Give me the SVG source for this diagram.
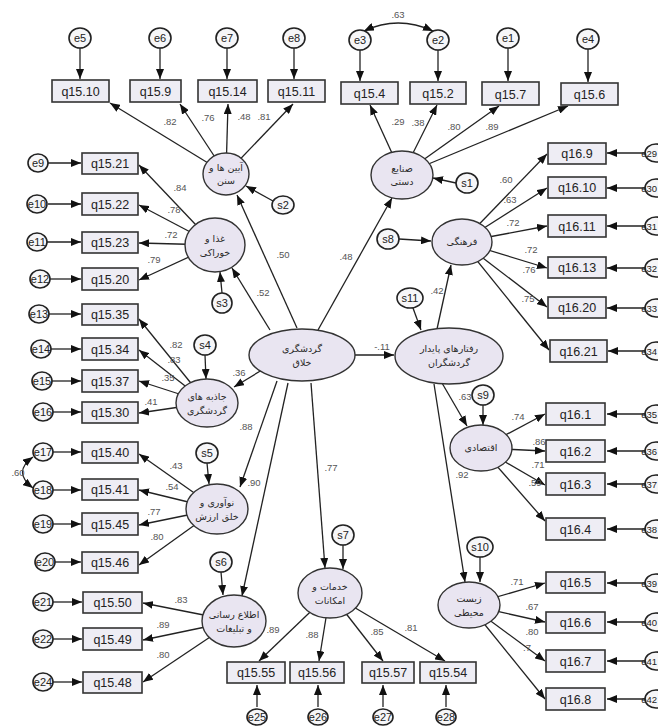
<svg xmlns="http://www.w3.org/2000/svg" width="658" height="726" viewBox="0 0 658 726">
<defs>
<marker id="ah" markerWidth="10" markerHeight="8" refX="10" refY="4" orient="auto" markerUnits="userSpaceOnUse"><path d="M0,0 L10,4 L0,8 z" fill="#111"/></marker>
<marker id="as" markerWidth="10" markerHeight="8" refX="0" refY="4" orient="auto" markerUnits="userSpaceOnUse"><path d="M10,0 L0,4 L10,8 z" fill="#111"/></marker>
</defs>
<style>
.c line,.c path{stroke:#222;stroke-width:1.3;fill:none;marker-end:url(#ah)}
.c path.cov{marker-start:url(#as)}
.box rect{fill:#eeedf4;stroke:#333;stroke-width:1.6}
.box text{font-family:"Liberation Sans",Arial,sans-serif;font-size:12.5px;fill:#222;text-anchor:middle}
.lat ellipse{fill:#e9e5f1;stroke:#333;stroke-width:1.4}
.lat text{font-family:"DejaVu Sans","Noto Sans",sans-serif;font-size:9.5px;fill:#2a2a2a;text-anchor:middle}
.err ellipse{fill:#f6f6f8;stroke:#222;stroke-width:1.6}
.err text{font-family:"Liberation Sans",Arial,sans-serif;font-size:11px;fill:#222;text-anchor:middle}
.err text.r{font-size:9.5px;text-anchor:end}
.lb text{font-family:"Liberation Sans",Arial,sans-serif;font-size:9.5px;fill:#555;text-anchor:middle}
</style>
<rect width="658" height="726" fill="#fff"/>
<g id="connectors" class="c">
<line x1="80" y1="48" x2="80" y2="79"/><line x1="160" y1="48" x2="160" y2="79"/><line x1="227" y1="48" x2="227" y2="79"/><line x1="294" y1="48" x2="294" y2="79"/>
<line x1="360" y1="50" x2="360" y2="81"/><line x1="438" y1="50" x2="438" y2="81"/><line x1="508" y1="48" x2="508" y2="81"/><line x1="588" y1="49" x2="588" y2="82"/>
<path class="cov" d="M364,31 Q398,15 433,31"/>
<line x1="48" y1="163" x2="81" y2="163"/><line x1="48" y1="204" x2="81" y2="204"/><line x1="47" y1="242" x2="81" y2="242"/><line x1="50" y1="279" x2="81" y2="279"/>
<line x1="49" y1="314" x2="81" y2="314"/><line x1="51" y1="349" x2="81" y2="349"/><line x1="52" y1="381" x2="81" y2="381"/><line x1="53" y1="412" x2="81" y2="412"/>
<line x1="53" y1="452" x2="81" y2="452"/><line x1="53" y1="490" x2="81" y2="490"/><line x1="53" y1="524" x2="81" y2="524"/><line x1="55" y1="562" x2="81" y2="562"/>
<line x1="53" y1="602" x2="82" y2="602"/><line x1="53" y1="639" x2="82" y2="639"/><line x1="53" y1="682" x2="82" y2="682"/>
<path class="cov" d="M33,457 Q12,472 33,488"/>
<line x1="645" y1="153" x2="607" y2="153"/><line x1="645" y1="188" x2="607" y2="188"/><line x1="645" y1="226" x2="607" y2="226"/><line x1="645" y1="268" x2="607" y2="268"/><line x1="645" y1="308" x2="607" y2="308"/><line x1="645" y1="351" x2="608" y2="351"/>
<line x1="645" y1="414" x2="607" y2="414"/><line x1="645" y1="451" x2="607" y2="451"/><line x1="645" y1="484" x2="607" y2="484"/><line x1="645" y1="529" x2="607" y2="529"/>
<line x1="645" y1="583" x2="607" y2="583"/><line x1="645" y1="622" x2="607" y2="622"/><line x1="645" y1="661" x2="607" y2="661"/><line x1="645" y1="699" x2="607" y2="699"/>
<line x1="257" y1="707" x2="257" y2="685"/><line x1="318" y1="707" x2="318" y2="685"/><line x1="383" y1="707" x2="383" y2="685"/><line x1="446" y1="707" x2="446" y2="685"/>
<line x1="226" y1="174" x2="110" y2="103"/><line x1="226" y1="174" x2="180" y2="104"/><line x1="226" y1="174" x2="228" y2="104"/><line x1="226" y1="174" x2="293" y2="104"/>
<line x1="402" y1="175" x2="370" y2="105"/><line x1="402" y1="175" x2="437" y2="105"/><line x1="402" y1="175" x2="499" y2="106"/><line x1="402" y1="175" x2="568" y2="106"/>
<line x1="215" y1="245" x2="139" y2="165"/><line x1="215" y1="245" x2="139" y2="205"/><line x1="215" y1="245" x2="139" y2="243"/><line x1="215" y1="245" x2="139" y2="280"/>
<line x1="207" y1="403" x2="139" y2="319"/><line x1="207" y1="403" x2="139" y2="350"/><line x1="207" y1="403" x2="139" y2="381"/><line x1="207" y1="403" x2="139" y2="413"/>
<line x1="217" y1="509" x2="139" y2="454"/><line x1="217" y1="509" x2="139" y2="490"/><line x1="217" y1="509" x2="139" y2="525"/><line x1="217" y1="509" x2="139" y2="565"/>
<line x1="234" y1="621" x2="143" y2="603"/><line x1="234" y1="621" x2="143" y2="640"/><line x1="234" y1="621" x2="143" y2="682"/>
<line x1="330" y1="593" x2="259" y2="661"/><line x1="330" y1="593" x2="319" y2="661"/><line x1="330" y1="593" x2="383" y2="661"/><line x1="330" y1="593" x2="445" y2="661"/>
<line x1="462" y1="242" x2="547" y2="154"/><line x1="462" y1="242" x2="547" y2="188"/><line x1="462" y1="242" x2="547" y2="226"/><line x1="462" y1="242" x2="547" y2="268"/><line x1="462" y1="242" x2="547" y2="307"/><line x1="462" y1="242" x2="549" y2="350"/>
<line x1="481" y1="448" x2="545" y2="414"/><line x1="481" y1="448" x2="545" y2="451"/><line x1="481" y1="448" x2="545" y2="485"/><line x1="481" y1="448" x2="545" y2="521"/>
<line x1="469" y1="605" x2="545" y2="583"/><line x1="469" y1="605" x2="545" y2="622"/><line x1="469" y1="605" x2="545" y2="661"/><line x1="469" y1="605" x2="545" y2="699"/>
<line x1="273" y1="201" x2="246" y2="186"/><line x1="222" y1="293" x2="220" y2="272"/><line x1="456" y1="183" x2="433" y2="178"/><line x1="399" y1="239" x2="431" y2="241"/>
<line x1="205" y1="355" x2="206" y2="379"/><line x1="207" y1="463" x2="209" y2="484"/><line x1="221" y1="572" x2="223" y2="595"/><line x1="343" y1="545" x2="343" y2="569"/>
<line x1="483" y1="405" x2="483" y2="425"/><line x1="480" y1="557" x2="480" y2="582"/><line x1="413" y1="308" x2="421" y2="330"/>
<line x1="297" y1="328" x2="237" y2="195"/><line x1="270" y1="330" x2="232" y2="268"/><line x1="318" y1="330" x2="392" y2="198"/><line x1="262" y1="370" x2="234" y2="387"/>
<line x1="277" y1="381" x2="240" y2="487"/><line x1="288" y1="383" x2="242" y2="596"/><line x1="311" y1="383" x2="325" y2="568"/><line x1="355" y1="355" x2="394" y2="355"/>
<line x1="437" y1="329" x2="451" y2="265"/><line x1="442" y1="383" x2="467" y2="426"/><line x1="434" y1="384" x2="465" y2="582"/>
</g>
<g id="labels" class="lb">
<text x="170" y="125">.82</text><text x="208" y="121">.76</text><text x="244" y="120">.48</text><text x="264" y="120">.81</text>
<text x="398" y="18">.63</text>
<text x="398" y="125">.29</text><text x="418" y="126">.38</text><text x="454" y="130">.80</text><text x="492" y="130">.89</text>
<text x="180" y="191">.84</text><text x="174" y="213">.78</text><text x="171" y="238">.72</text><text x="154" y="263">.79</text>
<text x="283" y="258">.50</text><text x="263" y="296">.52</text><text x="346" y="260">.48</text>
<text x="176" y="348">.82</text><text x="174" y="363">.83</text><text x="168" y="381">.35</text><text x="151" y="405">.41</text>
<text x="239" y="376">.36</text><text x="246" y="430">.88</text>
<text x="176" y="469">.43</text><text x="172" y="490">.54</text><text x="154" y="515">.77</text><text x="157" y="540">.80</text><text x="254" y="486">.90</text>
<text x="18" y="476">.60</text>
<text x="181" y="603">.83</text><text x="163" y="628">.89</text><text x="163" y="658">.80</text><text x="273" y="633">.89</text>
<text x="331" y="471">.77</text>
<text x="312" y="638">.88</text><text x="377" y="635">.85</text><text x="411" y="631">.81</text>
<text x="382" y="350">-.11</text><text x="437" y="294">.42</text>
<text x="506" y="183">.60</text><text x="510" y="203">.63</text><text x="513" y="226">.72</text><text x="531" y="253">.72</text><text x="529" y="273">.76</text><text x="528" y="302">.75</text>
<text x="465" y="400">.63</text><text x="462" y="478">.92</text>
<text x="518" y="420">.74</text><text x="539" y="445">.86</text><text x="538" y="468">.71</text><text x="535" y="486">.59</text>
<text x="517" y="585">.71</text><text x="532" y="610">.67</text><text x="532" y="635">.80</text><text x="527" y="651">.7</text>
</g>
<g id="n_q15_10" class="box"><rect x="52" y="80" width="57" height="22"/><text x="80.5" y="96">q15.10</text></g>
<g id="n_q15_9" class="box"><rect x="130" y="80" width="51" height="22"/><text x="155.5" y="96">q15.9</text></g>
<g id="n_q15_14" class="box"><rect x="198" y="80" width="59" height="22"/><text x="227.5" y="96">q15.14</text></g>
<g id="n_q15_11" class="box"><rect x="268" y="80" width="57" height="22"/><text x="296.5" y="96">q15.11</text></g>
<g id="n_q15_4" class="box"><rect x="341" y="82" width="57" height="22"/><text x="369.5" y="98">q15.4</text></g>
<g id="n_q15_2" class="box"><rect x="410" y="82" width="56" height="22"/><text x="438" y="98">q15.2</text></g>
<g id="n_q15_7" class="box"><rect x="482" y="82" width="57" height="23"/><text x="510.5" y="98.5">q15.7</text></g>
<g id="n_q15_6" class="box"><rect x="561" y="83" width="57" height="22"/><text x="589.5" y="99">q15.6</text></g>
<g id="n_q15_21" class="box"><rect x="82" y="153" width="56" height="21"/><text x="110" y="168">q15.21</text></g>
<g id="n_q15_22" class="box"><rect x="82" y="193" width="56" height="22"/><text x="110" y="208.5">q15.22</text></g>
<g id="n_q15_23" class="box"><rect x="82" y="232" width="56" height="21"/><text x="110" y="247">q15.23</text></g>
<g id="n_q15_20" class="box"><rect x="82" y="268" width="56" height="22"/><text x="110" y="283.5">q15.20</text></g>
<g id="n_q15_35" class="box"><rect x="82" y="304" width="56" height="21"/><text x="110" y="319">q15.35</text></g>
<g id="n_q15_34" class="box"><rect x="82" y="338" width="56" height="22"/><text x="110" y="353.5">q15.34</text></g>
<g id="n_q15_37" class="box"><rect x="82" y="370" width="56" height="22"/><text x="110" y="385.5">q15.37</text></g>
<g id="n_q15_30" class="box"><rect x="82" y="402" width="56" height="21"/><text x="110" y="417">q15.30</text></g>
<g id="n_q15_40" class="box"><rect x="82" y="442" width="56" height="21"/><text x="110" y="457">q15.40</text></g>
<g id="n_q15_41" class="box"><rect x="82" y="479" width="56" height="21"/><text x="110" y="494">q15.41</text></g>
<g id="n_q15_45" class="box"><rect x="82" y="513" width="56" height="22"/><text x="110" y="528.5">q15.45</text></g>
<g id="n_q15_46" class="box"><rect x="82" y="552" width="56" height="21"/><text x="110" y="567">q15.46</text></g>
<g id="n_q15_50" class="box"><rect x="83" y="592" width="59" height="21"/><text x="112.5" y="607">q15.50</text></g>
<g id="n_q15_49" class="box"><rect x="83" y="628" width="59" height="22"/><text x="112.5" y="643.5">q15.49</text></g>
<g id="n_q15_48" class="box"><rect x="83" y="672" width="59" height="21"/><text x="112.5" y="687">q15.48</text></g>
<g id="n_q15_55" class="box"><rect x="227" y="662" width="58" height="21"/><text x="256" y="677">q15.55</text></g>
<g id="n_q15_56" class="box"><rect x="290" y="662" width="54" height="21"/><text x="317" y="677">q15.56</text></g>
<g id="n_q15_57" class="box"><rect x="362" y="662" width="52" height="21"/><text x="388" y="677">q15.57</text></g>
<g id="n_q15_54" class="box"><rect x="420" y="662" width="56" height="21"/><text x="448" y="677">q15.54</text></g>
<g id="n_q16_9" class="box"><rect x="548" y="143" width="58" height="21"/><text x="577" y="158">q16.9</text></g>
<g id="n_q16_10" class="box"><rect x="548" y="177" width="58" height="21"/><text x="577" y="192">q16.10</text></g>
<g id="n_q16_11" class="box"><rect x="548" y="215" width="58" height="22"/><text x="577" y="230.5">q16.11</text></g>
<g id="n_q16_13" class="box"><rect x="548" y="257" width="58" height="21"/><text x="577" y="272">q16.13</text></g>
<g id="n_q16_20" class="box"><rect x="548" y="297" width="58" height="21"/><text x="577" y="312">q16.20</text></g>
<g id="n_q16_21" class="box"><rect x="550" y="340" width="57" height="22"/><text x="578.5" y="355.5">q16.21</text></g>
<g id="n_q16_1" class="box"><rect x="546" y="403" width="59" height="22"/><text x="575.5" y="418.5">q16.1</text></g>
<g id="n_q16_2" class="box"><rect x="546" y="440" width="59" height="22"/><text x="575.5" y="455.5">q16.2</text></g>
<g id="n_q16_3" class="box"><rect x="546" y="473" width="59" height="22"/><text x="575.5" y="488.5">q16.3</text></g>
<g id="n_q16_4" class="box"><rect x="546" y="518" width="59" height="22"/><text x="575.5" y="533.5">q16.4</text></g>
<g id="n_q16_5" class="box"><rect x="546" y="572" width="59" height="21"/><text x="575.5" y="587">q16.5</text></g>
<g id="n_q16_6" class="box"><rect x="546" y="612" width="59" height="21"/><text x="575.5" y="627">q16.6</text></g>
<g id="n_q16_7" class="box"><rect x="546" y="650" width="59" height="22"/><text x="575.5" y="665.5">q16.7</text></g>
<g id="n_q16_8" class="box"><rect x="546" y="688" width="59" height="22"/><text x="575.5" y="703.5">q16.8</text></g>
<g id="n_rituals" class="lat"><ellipse cx="226" cy="174" rx="23" ry="21"/><text x="226" y="171">آیین ها و</text><text x="226" y="184">سنن</text></g>
<g id="n_crafts" class="lat"><ellipse cx="402" cy="175" rx="31" ry="24"/><text x="402" y="172">صنایع</text><text x="402" y="185">دستی</text></g>
<g id="n_food" class="lat"><ellipse cx="215" cy="245" rx="30" ry="27"/><text x="215" y="242">غذا و</text><text x="215" y="256">خوراکی</text></g>
<g id="n_culture" class="lat"><ellipse cx="462" cy="242" rx="30" ry="23"/><text x="462" y="245">فرهنگی</text></g>
<g id="n_creative" class="lat"><ellipse cx="302" cy="355" rx="53" ry="26"/><text x="302" y="352">گردشگری</text><text x="302" y="366">خلاق</text></g>
<g id="n_behavior" class="lat"><ellipse cx="449" cy="356" rx="54" ry="28"/><text x="449" y="352">رفتارهای پایدار</text><text x="449" y="366">گردشگران</text></g>
<g id="n_attractions" class="lat"><ellipse cx="207" cy="403" rx="31" ry="24"/><text x="207" y="400">جاذبه های</text><text x="207" y="414">گردشگری</text></g>
<g id="n_economic" class="lat"><ellipse cx="481" cy="448" rx="31" ry="23"/><text x="481" y="451">اقتصادی</text></g>
<g id="n_innovation" class="lat"><ellipse cx="217" cy="509" rx="31" ry="25"/><text x="217" y="506">نوآوری و</text><text x="217" y="520">خلق ارزش</text></g>
<g id="n_services" class="lat"><ellipse cx="330" cy="593" rx="32" ry="25"/><text x="330" y="590">خدمات و</text><text x="330" y="604">امکانات</text></g>
<g id="n_environment" class="lat"><ellipse cx="469" cy="605" rx="31" ry="23"/><text x="469" y="602">زیست</text><text x="469" y="616">محیطی</text></g>
<g id="n_media" class="lat"><ellipse cx="234" cy="621" rx="32" ry="26"/><text x="234" y="618">اطلاع رسانی</text><text x="234" y="632">و تبلیغات</text></g>
<g id="errors" class="err">
<g id="n_e5"><ellipse cx="80" cy="38" rx="11" ry="10"/><text x="80" y="42">e5</text></g>
<g id="n_e6"><ellipse cx="160" cy="38" rx="11" ry="10"/><text x="160" y="42">e6</text></g>
<g id="n_e7"><ellipse cx="227" cy="38" rx="11" ry="10"/><text x="227" y="42">e7</text></g>
<g id="n_e8"><ellipse cx="294" cy="38" rx="11" ry="10"/><text x="294" y="42">e8</text></g>
<g id="n_e3"><ellipse cx="360" cy="40" rx="11" ry="10"/><text x="360" y="44">e3</text></g>
<g id="n_e2"><ellipse cx="438" cy="40" rx="11" ry="10"/><text x="438" y="44">e2</text></g>
<g id="n_e1"><ellipse cx="508" cy="38" rx="11" ry="10"/><text x="508" y="42">e1</text></g>
<g id="n_e4"><ellipse cx="588" cy="39" rx="11" ry="10"/><text x="588" y="43">e4</text></g>
<g id="n_e9"><ellipse cx="38" cy="163" rx="10" ry="9"/><text x="38" y="167">e9</text></g>
<g id="n_e10"><ellipse cx="37" cy="204" rx="10" ry="9"/><text x="37" y="208">e10</text></g>
<g id="n_e11"><ellipse cx="37" cy="242" rx="10" ry="9"/><text x="37" y="246">e11</text></g>
<g id="n_e12"><ellipse cx="40" cy="279" rx="10" ry="9"/><text x="40" y="283">e12</text></g>
<g id="n_e13"><ellipse cx="39" cy="314" rx="10" ry="9"/><text x="39" y="318">e13</text></g>
<g id="n_e14"><ellipse cx="41" cy="349" rx="10" ry="9"/><text x="41" y="353">e14</text></g>
<g id="n_e15"><ellipse cx="42" cy="381" rx="10" ry="9"/><text x="42" y="385">e15</text></g>
<g id="n_e16"><ellipse cx="43" cy="412" rx="10" ry="9"/><text x="43" y="416">e16</text></g>
<g id="n_e17"><ellipse cx="43" cy="452" rx="10" ry="9"/><text x="43" y="456">e17</text></g>
<g id="n_e18"><ellipse cx="43" cy="490" rx="10" ry="9"/><text x="43" y="494">e18</text></g>
<g id="n_e19"><ellipse cx="43" cy="524" rx="10" ry="9"/><text x="43" y="528">e19</text></g>
<g id="n_e20"><ellipse cx="45" cy="562" rx="10" ry="9"/><text x="45" y="566">e20</text></g>
<g id="n_e21"><ellipse cx="43" cy="602" rx="10" ry="9"/><text x="43" y="606">e21</text></g>
<g id="n_e22"><ellipse cx="43" cy="639" rx="10" ry="9"/><text x="43" y="643">e22</text></g>
<g id="n_e24"><ellipse cx="43" cy="682" rx="10" ry="9"/><text x="43" y="686">e24</text></g>
<g id="n_e25"><ellipse cx="257" cy="717" rx="10" ry="8"/><text x="257" y="721">e25</text></g>
<g id="n_e26"><ellipse cx="318" cy="717" rx="10" ry="8"/><text x="318" y="721">e26</text></g>
<g id="n_e27"><ellipse cx="383" cy="717" rx="10" ry="8"/><text x="383" y="721">e27</text></g>
<g id="n_e28"><ellipse cx="446" cy="717" rx="10" ry="8"/><text x="446" y="721">e28</text></g>
<g id="n_e29"><ellipse cx="656" cy="153" rx="11" ry="9"/><text class="r" x="657" y="156.5">e29</text></g>
<g id="n_e30"><ellipse cx="656" cy="188" rx="11" ry="9"/><text class="r" x="657" y="191.5">e30</text></g>
<g id="n_e31"><ellipse cx="656" cy="226" rx="11" ry="9"/><text class="r" x="657" y="229.5">e31</text></g>
<g id="n_e32"><ellipse cx="656" cy="268" rx="11" ry="9"/><text class="r" x="657" y="271.5">e32</text></g>
<g id="n_e33"><ellipse cx="656" cy="308" rx="11" ry="9"/><text class="r" x="657" y="311.5">e33</text></g>
<g id="n_e34"><ellipse cx="656" cy="351" rx="11" ry="9"/><text class="r" x="657" y="354.5">e34</text></g>
<g id="n_e35"><ellipse cx="656" cy="414" rx="11" ry="9"/><text class="r" x="657" y="417.5">e35</text></g>
<g id="n_e36"><ellipse cx="656" cy="451" rx="11" ry="9"/><text class="r" x="657" y="454.5">e36</text></g>
<g id="n_e37"><ellipse cx="656" cy="484" rx="11" ry="9"/><text class="r" x="657" y="487.5">e37</text></g>
<g id="n_e38"><ellipse cx="656" cy="529" rx="11" ry="9"/><text class="r" x="657" y="532.5">e38</text></g>
<g id="n_e39"><ellipse cx="656" cy="583" rx="11" ry="9"/><text class="r" x="657" y="586.5">e39</text></g>
<g id="n_e40"><ellipse cx="656" cy="622" rx="11" ry="9"/><text class="r" x="657" y="625.5">e40</text></g>
<g id="n_e41"><ellipse cx="656" cy="661" rx="11" ry="9"/><text class="r" x="657" y="664.5">e41</text></g>
<g id="n_e42"><ellipse cx="656" cy="699" rx="11" ry="9"/><text class="r" x="657" y="702.5">e42</text></g>
</g>
<g id="residuals" class="err">
<g id="n_s1"><ellipse cx="467" cy="183" rx="11" ry="10"/><text x="467" y="187">s1</text></g>
<g id="n_s2"><ellipse cx="283" cy="205" rx="11" ry="9"/><text x="283" y="209">s2</text></g>
<g id="n_s3"><ellipse cx="222" cy="303" rx="10" ry="10"/><text x="222" y="307">s3</text></g>
<g id="n_s4"><ellipse cx="205" cy="345" rx="11" ry="10"/><text x="205" y="349">s4</text></g>
<g id="n_s5"><ellipse cx="207" cy="453" rx="11" ry="10"/><text x="207" y="457">s5</text></g>
<g id="n_s6"><ellipse cx="221" cy="562" rx="11" ry="10"/><text x="221" y="566">s6</text></g>
<g id="n_s7"><ellipse cx="343" cy="535" rx="11" ry="10"/><text x="343" y="539">s7</text></g>
<g id="n_s8"><ellipse cx="388" cy="239" rx="11" ry="10"/><text x="388" y="243">s8</text></g>
<g id="n_s9"><ellipse cx="483" cy="395" rx="11" ry="10"/><text x="483" y="399">s9</text></g>
<g id="n_s10"><ellipse cx="480" cy="547" rx="13" ry="10"/><text x="480" y="551">s10</text></g>
<g id="n_s11"><ellipse cx="410" cy="298" rx="13" ry="10"/><text x="410" y="302">s11</text></g>
</g>
</svg>
